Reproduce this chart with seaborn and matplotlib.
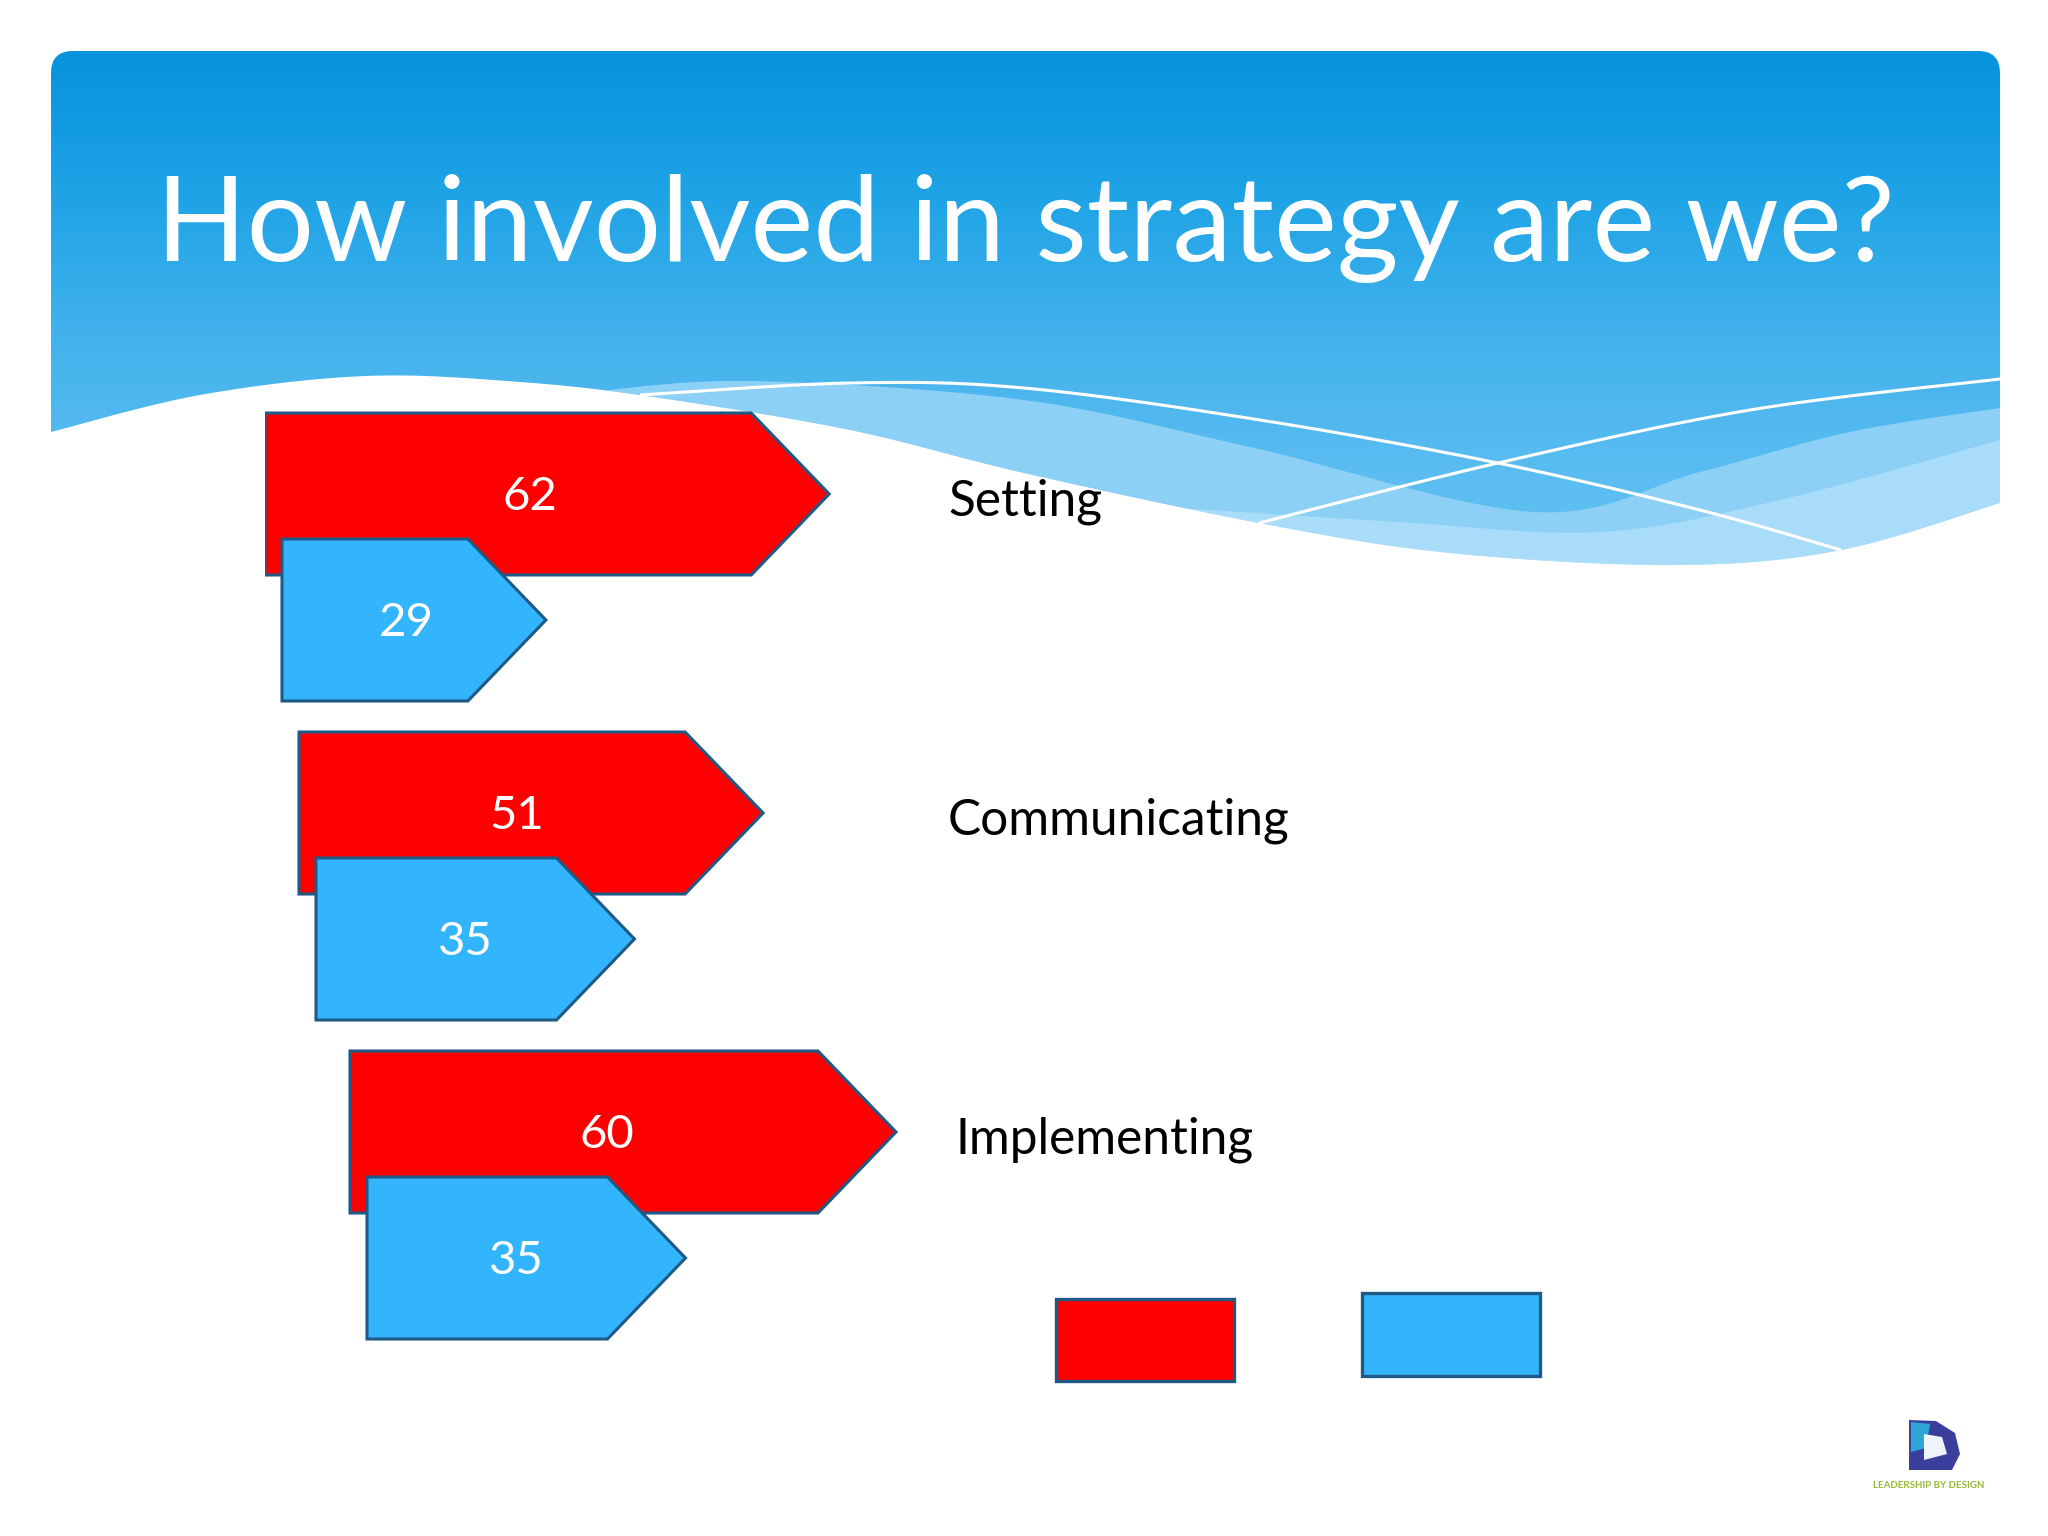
import numpy as np
import pandas as pd
import matplotlib
matplotlib.use("Agg")
import matplotlib.pyplot as plt
import seaborn as sns
from matplotlib.colors import LinearSegmentedColormap, to_rgba
from matplotlib.patches import Polygon, Rectangle, FancyBboxPatch

stages = ["Setting", "Communicating", "Implementing"]
series_names = ["Series 1", "Series 2"]
red_scores = [62, 51, 60]
blue_scores = [29, 35, 35]
title = "How involved in strategy are we?"

RED = "#ff0000"
BLUE = "#33b5fd"
EDGE = "#1f5a86"

sns.set_theme(style="white")
plt.rcParams["font.family"] = ["Lato", "DejaVu Sans"]

W, H = 2048, 1536
fig = plt.figure(figsize=(W / 100, H / 100), dpi=100)
fig.patch.set_facecolor("white")


def smooth(pts, n=40):
    # catmull-rom through the given points
    pts = np.asarray(pts, float)
    p = np.vstack([pts[0], pts, pts[-1]])
    out = []
    t = np.linspace(0, 1, n, endpoint=False)[:, None]
    for i in range(1, len(p) - 2):
        p0, p1, p2, p3 = p[i - 1], p[i], p[i + 1], p[i + 2]
        out.append(0.5 * (2 * p1 + (-p0 + p2) * t + (2 * p0 - 5 * p1 + 4 * p2 - p3) * t ** 2
                          + (-p0 + 3 * p1 - 3 * p2 + p3) * t ** 3))
    out.append(pts[-1:])
    return np.vstack(out)


# background / slide decoration in pixel coords
bg = fig.add_axes([0, 0, 1, 1], zorder=0)
bg.set_xlim(0, W)
bg.set_ylim(H, 0)
bg.axis("off")

hdr_cmap = LinearSegmentedColormap.from_list(
    "hdr", ["#0692dc", "#1ea3e6", "#42b2ec", "#5bbdf1", "#68c3f3"])
grad = np.linspace(0, 1, 256).reshape(-1, 1)
im = bg.imshow(grad, extent=(51, 2000, 620, 51), cmap=hdr_cmap, aspect="auto", zorder=1)
clip = FancyBboxPatch((51, 51), 1949, 569, boxstyle="round,pad=0,rounding_size=22",
                      transform=bg.transData, facecolor="none", edgecolor="none")
bg.add_patch(clip)
im.set_clip_path(clip)

boundary = smooth([(51, 432), (200, 395), (366, 376), (520, 382), (653, 397), (850, 430),
                   (1024, 473), (1259, 523), (1450, 553), (1677, 565), (1841, 550), (2000, 503)])

band_a_top = smooth([(590, 392), (750, 381), (1024, 400), (1250, 447), (1534, 512),
                     (1700, 472), (1850, 432), (2000, 408)])
band_b_top = smooth([(1180, 508), (1400, 522), (1600, 532), (1780, 500), (2000, 440)])


def band(top, color):
    xs = top[:, 0]
    low = np.interp(xs, boundary[:, 0], boundary[:, 1])
    poly = np.vstack([top, np.column_stack([xs, low])[::-1]])
    bg.add_patch(Polygon(poly, closed=True, facecolor=color, edgecolor="none", zorder=2))


band(band_a_top, "#8dd0f6")
band(band_b_top, "#a8dcf9")

white_poly = np.vstack([boundary, [(2000, 640), (51, 640)]])
bg.add_patch(Polygon(white_poly, closed=True, facecolor="white", edgecolor="none", zorder=3))

line1 = smooth([(640, 395), (850, 383), (1024, 388), (1260, 420), (1498, 463),
                (1700, 510), (1841, 550)])
line2 = smooth([(1259, 523), (1498, 463), (1750, 410), (2000, 379)])
for ln in (line1, line2):
    bg.plot(ln[:, 0], ln[:, 1], color="white", lw=2.2, zorder=4, solid_capstyle="butt")

bg.text(1025, 261, title, ha="center", va="baseline", color="white", fontsize=85.5, zorder=5)

# legend swatches (no labels in the original)
bg.add_patch(Rectangle((1056, 1299), 178, 82, facecolor=RED, edgecolor=EDGE, lw=2.4, zorder=5))
bg.add_patch(Rectangle((1362, 1293), 178, 83, facecolor=BLUE, edgecolor=EDGE, lw=2.4, zorder=5))

# small logo, bottom right
bg.add_patch(Polygon([(1909, 1420), (1936, 1421), (1955, 1433), (1960, 1454), (1952, 1470),
                      (1909, 1470)], closed=True, facecolor="#3a3f9c", edgecolor="none", zorder=5))
bg.add_patch(Polygon([(1911, 1422), (1930, 1424), (1926, 1448), (1911, 1452)], closed=True,
                     facecolor="#2fa6d8", edgecolor="none", zorder=6))
bg.add_patch(Polygon([(1924, 1434), (1942, 1437), (1947, 1454), (1924, 1460)], closed=True,
                     facecolor="#eef4fa", edgecolor="none", zorder=6))
bg.text(1929, 1486, "LEADERSHIP BY DESIGN", ha="center", va="center", fontsize=7,
        color="#9ab838", fontweight="bold", zorder=6)

# chart
PX = 9.1          # pixels per score unit
ROW = 319         # pixels per category
ax = fig.add_axes([265 / W, 1 - (557 + 2.5 * ROW) / H, 1100 / W, 3 * ROW / H], zorder=1)
ax.patch.set_alpha(0)

df = pd.DataFrame({
    "stage": stages * 2,
    "series": [series_names[0]] * 3 + [series_names[1]] * 3,
    "score": red_scores + blue_scores,
})
sns.barplot(data=df, x="score", y="stage", hue="series", hue_order=series_names,
            palette={series_names[0]: RED, series_names[1]: BLUE}, saturation=1,
            width=0.79, orient="h", legend=False, ax=ax)
ax.set_xlim(0, 1100 / PX)
ax.set_ylim(2.5, -0.5)
ax.axis("off")

indent = [0, 34 / PX, 85 / PX]
label_shift = [0, 0, 8 / PX]
blue_shift = 17 / PX
tip = 78 / PX
half_h = 162 / ROW / 2

for bar in list(ax.patches):
    fc = bar.get_facecolor()
    is_blue = np.allclose(fc[:3], to_rgba(BLUE)[:3], atol=0.02)
    yc = bar.get_y() + bar.get_height() / 2
    row = int(round(yc))
    length = bar.get_width()
    x0 = indent[row] + (blue_shift if is_blue else 0)
    x1 = x0 + length
    pts = [(x0, yc - half_h), (x1 - tip, yc - half_h), (x1, yc),
           (x1 - tip, yc + half_h), (x0, yc + half_h)]
    ax.add_patch(Polygon(pts, closed=True, facecolor=fc, edgecolor=EDGE, lw=2.2,
                         joinstyle="miter", zorder=3 if is_blue else 2))
    ax.text(x0 + 0.47 * length, yc + 0.01, f"{length:.0f}", ha="center", va="center",
            color="white", fontsize=34, zorder=4)
    if not is_blue:
        ax.text((948 - 265) / PX + label_shift[row], yc + 22 / ROW, stages[row], ha="left",
                va="baseline", color="black", fontsize=35.7, zorder=4)
    bar.set_visible(False)

fig.savefig("out.png", dpi=100)
